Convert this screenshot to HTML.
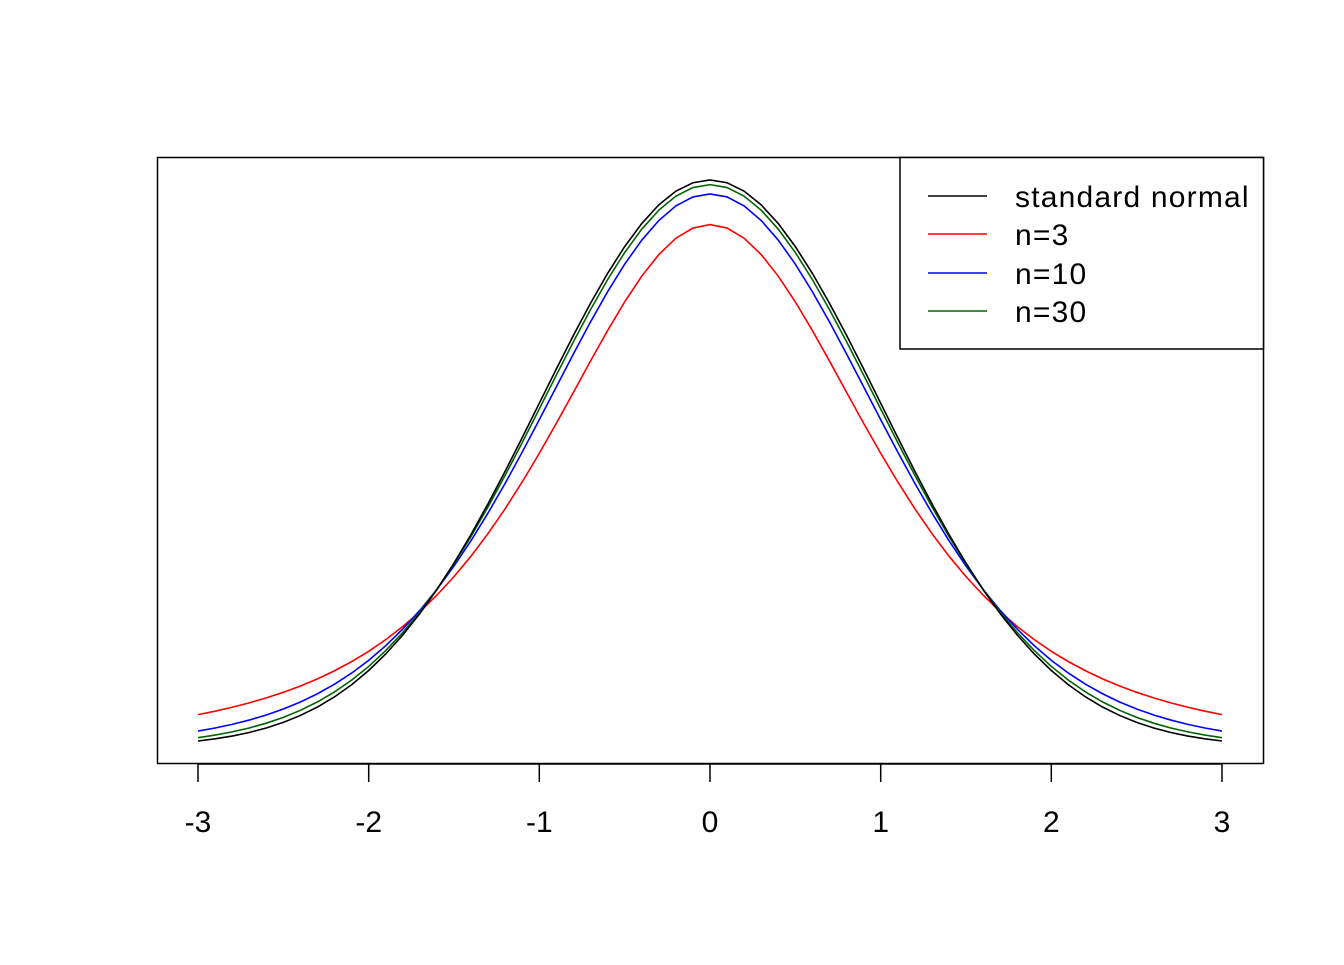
<!DOCTYPE html>
<html><head><meta charset="utf-8"><style>
html,body{margin:0;padding:0;background:#fff;}
svg text{font-family:"Liberation Sans",Arial,sans-serif;font-size:30px;fill:#000;}
</style></head><body>
<svg id="s" width="1344" height="960" viewBox="0 0 1344 960" xmlns="http://www.w3.org/2000/svg">
<rect x="0" y="0" width="1344" height="960" fill="#fff"/>
<g id="curves" fill="none" stroke-width="1.6"></g>
<rect x="157.5" y="157.5" width="1106" height="606" fill="none" stroke="#000" stroke-width="1.5"/>
<g stroke="#000" stroke-width="1.5">
<line x1="198" y1="764" x2="1222" y2="764"/>
<line x1="198" y1="764" x2="198" y2="782"/>
<line x1="368.7" y1="764" x2="368.7" y2="782"/>
<line x1="539.3" y1="764" x2="539.3" y2="782"/>
<line x1="710" y1="764" x2="710" y2="782"/>
<line x1="880.7" y1="764" x2="880.7" y2="782"/>
<line x1="1051.3" y1="764" x2="1051.3" y2="782"/>
<line x1="1222" y1="764" x2="1222" y2="782"/>
</g>
<g text-anchor="middle">
<text x="198" y="832">-3</text>
<text x="368.7" y="832">-2</text>
<text x="539.3" y="832">-1</text>
<text x="710" y="832">0</text>
<text x="880.7" y="832">1</text>
<text x="1051.3" y="832">2</text>
<text x="1222" y="832">3</text>
</g>
<rect x="900" y="157.5" width="363.5" height="191.5" fill="#fff" stroke="#000" stroke-width="1.5"/>
<line x1="928" y1="196" x2="987" y2="196" stroke="#000" stroke-width="1.6"/>
<line x1="928" y1="234" x2="987" y2="234" stroke="#ff0000" stroke-width="1.6"/>
<line x1="928" y1="273" x2="987" y2="273" stroke="#0000ff" stroke-width="1.6"/>
<line x1="928" y1="311" x2="987" y2="311" stroke="#006400" stroke-width="1.6"/>
<g style="font-size:31px;letter-spacing:1.2px">
<text x="1015" y="207">standard normal</text>
<text x="1015" y="245">n=3</text>
<text x="1015" y="284">n=10</text>
<text x="1015" y="322">n=30</text>
</g>
</svg>
<script>
(function(){
var g=document.getElementById('curves');
function lg(z){var c=[676.5203681218851,-1259.1392167224028,771.3234287776531,-176.6150291621406,12.507343278686905,-0.13857109526572012,9.984369578019572e-6,1.5056327351493116e-7];
if(z<0.5)return Math.log(Math.PI/Math.sin(Math.PI*z))-lg(1-z);z-=1;var x=0.9999999999998099;for(var i=0;i<8;i++)x+=c[i]/(z+i+1);var t=z+7.5;return 0.5*Math.log(2*Math.PI)+(z+0.5)*Math.log(t)-t+Math.log(x);}
function norm(x){return Math.exp(-x*x/2)/Math.sqrt(2*Math.PI);}
function td(v){var k=Math.exp(lg((v+1)/2)-lg(v/2))/Math.sqrt(v*Math.PI);return function(x){return k*Math.pow(1+x*x/v,-(v+1)/2);};}
var fs=[[norm,'#000'],[td(3),'#ff0000'],[td(10),'#0000ff'],[td(30),'#006400']];
var order=[1,2,3,0];
order.forEach(function(i){var f=fs[i][0],d='';
for(var j=0;j<=60;j++){var x=-3+j*0.1;var px=710+x*170.667;var py=747.3-f(x)*1422.2;d+=(j?'L':'M')+px.toFixed(2)+' '+py.toFixed(2);}
var p=document.createElementNS('http://www.w3.org/2000/svg','path');p.setAttribute('d',d);p.setAttribute('stroke',fs[i][1]);g.appendChild(p);});
})();
</script>
</body></html>
